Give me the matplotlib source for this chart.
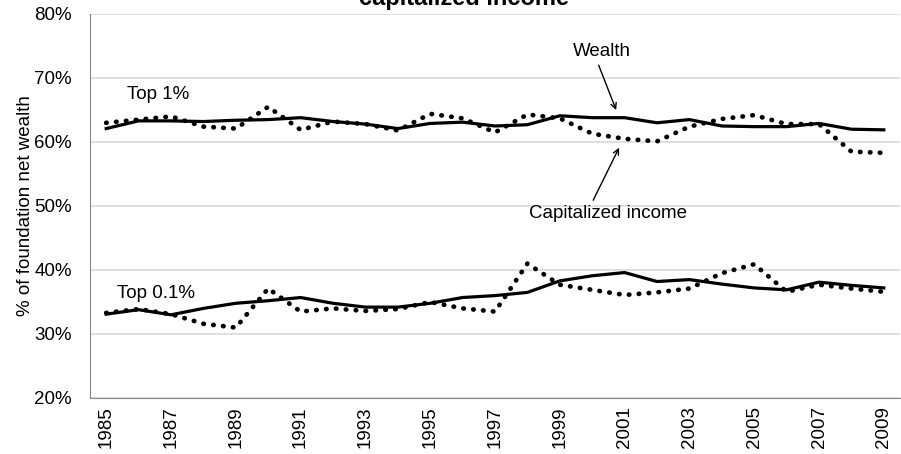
"""Top wealth shares: wealth vs capitalized income."""

import matplotlib

matplotlib.use("Agg")
import matplotlib.pyplot as plt
from matplotlib.ticker import PercentFormatter

plt.rcParams["font.family"] = ["Liberation Sans", "DejaVu Sans"]

years = list(range(1985, 2010))

top1_wealth = [62.1, 63.3, 63.3, 63.2, 63.4, 63.5, 63.8, 63.2, 62.8, 62.1, 62.9,
               63.1, 62.5, 62.7, 64.1, 63.8, 63.8, 63.0, 63.5, 62.5, 62.4, 62.4,
               62.9, 62.0, 61.9]
top1_capinc = [63.0, 63.5, 64.0, 62.4, 62.1, 65.5, 61.9, 63.2, 62.8, 61.8, 64.4,
               63.7, 61.5, 64.3, 63.7, 61.3, 60.5, 60.1, 62.4, 63.6, 64.2, 62.8,
               62.8, 58.5, 58.3]
top01_wealth = [33.1, 33.8, 33.0, 34.0, 34.8, 35.2, 35.7, 34.8, 34.2, 34.2, 34.8,
                35.7, 36.0, 36.5, 38.3, 39.1, 39.6, 38.2, 38.5, 37.8, 37.2, 36.9,
                38.1, 37.6, 37.2]
top01_capinc = [33.3, 33.9, 33.1, 31.6, 31.0, 37.1, 33.5, 34.0, 33.6, 33.9, 35.0,
                34.0, 33.5, 41.0, 37.7, 36.9, 36.1, 36.5, 37.1, 39.5, 40.9, 36.6,
                37.7, 37.1, 36.6]

FS = 13.5

fig = plt.figure(figsize=(9.01, 4.54), dpi=100)
ax = fig.add_axes([90 / 901, 56 / 454, 810 / 901, 384 / 454])

dotted = dict(color="black", linewidth=3.4, linestyle=(0, (0.1, 2.0)),
              dash_capstyle="round")
solid = dict(color="black", linewidth=2.3, solid_joinstyle="round")

ax.plot(years, top1_capinc, **dotted)
ax.plot(years, top01_capinc, **dotted)
ax.plot(years, top1_wealth, **solid)
ax.plot(years, top01_wealth, **solid)

ax.set_xlim(1984.5, 2009.5)
ax.set_ylim(20, 80)
ax.set_yticks(range(20, 81, 10))
ax.yaxis.set_major_formatter(PercentFormatter(decimals=0))
ax.set_xticks(years[::2])
ax.set_xticklabels([str(y) for y in years[::2]], rotation=90)
ax.tick_params(axis="both", length=0, labelsize=FS)
ax.tick_params(axis="y", pad=13)
ax.tick_params(axis="x", pad=6)
ax.grid(True, axis="y", color="#d9d9d9", linewidth=1.2)
ax.set_axisbelow(True)
for side in ("top", "right"):
    ax.spines[side].set_visible(False)
ax.spines["left"].set_color("#868686")
ax.spines["bottom"].set_color("#868686")
ax.set_ylabel("% of foundation net wealth", fontsize=FS, labelpad=0)

ax.text(1986.6, 67.4, "Top 1%", fontsize=FS, ha="center", va="center")
ax.text(1986.55, 36.4, "Top 0.1%", fontsize=FS, ha="center", va="center")
ax.text(2000.3, 74.1, "Wealth", fontsize=FS, ha="center", va="center")
ax.text(2000.5, 48.9, "Capitalized income", fontsize=FS, ha="center", va="center")

arrow = dict(arrowstyle="->", color="black", lw=1.0, shrinkA=0, shrinkB=0)
ax.annotate("", xy=(2000.74, 65.0), xytext=(2000.2, 72.0), arrowprops=arrow)
ax.annotate("", xy=(2000.83, 59.1), xytext=(2000.03, 50.9), arrowprops=arrow)

fig.text(464 / 901, 1 - 4.5 / 454, "capitalized income", fontsize=17,
         fontweight="bold", ha="center", va="baseline")

fig.savefig("out.png", dpi=100)
plt.close(fig)
